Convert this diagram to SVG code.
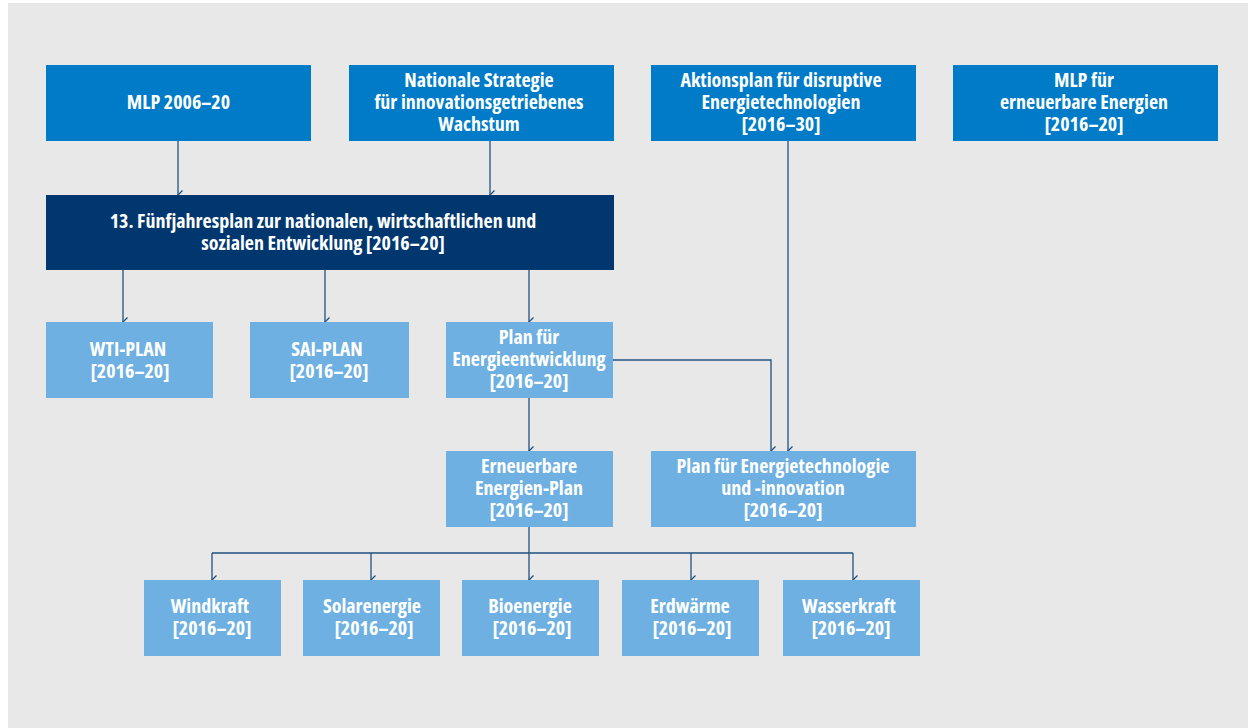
<svg xmlns="http://www.w3.org/2000/svg" width="1248" height="728" viewBox="0 0 1248 728">
<defs>
<style>
.bg{fill:#e8e8e8}
.top{fill:#007bc7}
.dark{fill:#00376f}
.light{fill:#6eb0e2}
.t{font-family:"Open Sans","DejaVu Sans Condensed",sans-serif;font-stretch:condensed;font-weight:700;font-size:20px;fill:#ffffff;text-anchor:middle}
.c{fill:none;stroke:#1f5180;stroke-width:1.3}
</style>
<marker id="ah" viewBox="0 0 10 10" refX="5" refY="9" markerWidth="10" markerHeight="10" markerUnits="userSpaceOnUse" orient="auto-start-reverse">
<path d="M0.5,4.5 L5,9 L9.5,4.5" fill="none" stroke="#1f5180" stroke-width="1.3"/>
</marker>
</defs>
<rect x="0" y="0" width="1248" height="728" fill="#ffffff"/>
<rect class="bg" x="8" y="3" width="1240" height="725"/>
<g id="connectors">
<path class="c" d="M178,141 V195" marker-end="url(#ah)"/>
<path class="c" d="M490,141 V195" marker-end="url(#ah)"/>
<path class="c" d="M123,270 V322" marker-end="url(#ah)"/>
<path class="c" d="M325,270 V322" marker-end="url(#ah)"/>
<path class="c" d="M529,270 V322" marker-end="url(#ah)"/>
<path class="c" d="M529,398 V451" marker-end="url(#ah)"/>
<path class="c" d="M613,360 H771 V451" marker-end="url(#ah)"/>
<path class="c" d="M788,141 V451" marker-end="url(#ah)"/>
<path class="c" d="M529,527 V580" marker-end="url(#ah)"/>
<path class="c" d="M212,553 H853"/>
<path class="c" d="M212,553 V580" marker-end="url(#ah)"/>
<path class="c" d="M371,553 V580" marker-end="url(#ah)"/>
<path class="c" d="M691,553 V580" marker-end="url(#ah)"/>
<path class="c" d="M853,553 V580" marker-end="url(#ah)"/>
</g>
<g id="n-mlp">
<rect class="top" x="46" y="65" width="265" height="76"/>
<text class="t" x="178.5" y="109">MLP 2006–20</text>
</g>
<g id="n-nationale">
<rect class="top" x="349" y="65" width="265" height="76"/>
<text class="t" x="479" y="87">Nationale Strategie</text>
<text class="t" x="479" y="109">für innovationsgetriebenes</text>
<text class="t" x="479" y="131">Wachstum</text>
</g>
<g id="n-aktionsplan">
<rect class="top" x="651" y="65" width="265" height="76"/>
<text class="t" x="781" y="87">Aktionsplan für disruptive</text>
<text class="t" x="781" y="109">Energietechnologien</text>
<text class="t" x="781" y="131">[2016–30]</text>
</g>
<g id="n-mlp-ee">
<rect class="top" x="953" y="65" width="265" height="76"/>
<text class="t" x="1084" y="87">MLP für</text>
<text class="t" x="1084" y="109">erneuerbare Energien</text>
<text class="t" x="1084" y="131">[2016–20]</text>
</g>
<g id="n-fuenfjahresplan">
<rect class="dark" x="46" y="195" width="568" height="75"/>
<text class="t" x="323" y="228">13. Fünfjahresplan zur nationalen, wirtschaftlichen und</text>
<text class="t" x="323" y="250">sozialen Entwicklung [2016–20]</text>
</g>
<g id="n-wti">
<rect class="light" x="46" y="322" width="167" height="76"/>
<text class="t" x="128" y="356">WTI-PLAN</text>
<text class="t" x="130" y="378">[2016–20]</text>
</g>
<g id="n-sai">
<rect class="light" x="250" y="322" width="159" height="76"/>
<text class="t" x="327" y="356">SAI-PLAN</text>
<text class="t" x="329" y="378">[2016–20]</text>
</g>
<g id="n-energieentwicklung">
<rect class="light" x="446" y="322" width="167" height="76"/>
<text class="t" x="529" y="344">Plan für</text>
<text class="t" x="529" y="366">Energieentwicklung</text>
<text class="t" x="529" y="388">[2016–20]</text>
</g>
<g id="n-ee-plan">
<rect class="light" x="446" y="451" width="167" height="76"/>
<text class="t" x="529" y="473">Erneuerbare</text>
<text class="t" x="529" y="495">Energien-Plan</text>
<text class="t" x="529" y="517">[2016–20]</text>
</g>
<g id="n-energietechnologie">
<rect class="light" x="651" y="451" width="265" height="76"/>
<text class="t" x="783" y="473">Plan für Energietechnologie</text>
<text class="t" x="783" y="495">und -innovation</text>
<text class="t" x="783" y="517">[2016–20]</text>
</g>
<g id="n-windkraft">
<rect class="light" x="144" y="580" width="137" height="76"/>
<text class="t" x="210" y="613">Windkraft</text>
<text class="t" x="212" y="635">[2016–20]</text>
</g>
<g id="n-solar">
<rect class="light" x="303" y="580" width="137" height="76"/>
<text class="t" x="372" y="613">Solarenergie</text>
<text class="t" x="374" y="635">[2016–20]</text>
</g>
<g id="n-bio">
<rect class="light" x="462" y="580" width="137" height="76"/>
<text class="t" x="530" y="613">Bioenergie</text>
<text class="t" x="532" y="635">[2016–20]</text>
</g>
<g id="n-erdwaerme">
<rect class="light" x="622" y="580" width="137" height="76"/>
<text class="t" x="690" y="613">Erdwärme</text>
<text class="t" x="692" y="635">[2016–20]</text>
</g>
<g id="n-wasserkraft">
<rect class="light" x="783" y="580" width="137" height="76"/>
<text class="t" x="849" y="613">Wasserkraft</text>
<text class="t" x="851" y="635">[2016–20]</text>
</g>
</svg>
